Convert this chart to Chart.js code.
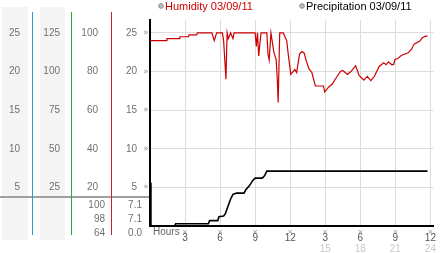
<!DOCTYPE html>
<html>
<head>
<meta charset="utf-8">
<title>Humidity / Precipitation 03/09/11</title>
<script src="https://cdn.jsdelivr.net/npm/chart.js@4.4.0/dist/chart.umd.min.js"></script>
<style>
  html, body { margin: 0; padding: 0; background: #fff; }
</style>
</head>
<body>
<canvas id="weatherChart" width="442" height="253"></canvas>
<script>
// Values (hours since midnight)
const humidityHours = [0, 1.4, 1.45, 2.5, 2.55, 3.3, 3.35, 4.0, 4.05, 5.3, 5.5, 5.7, 6.2, 6.3, 6.5, 6.6, 6.7, 6.9, 7.1, 7.2,
    9.0, 9.1, 9.2, 9.3, 9.5, 10.0, 10.1, 10.2, 10.35, 10.6, 10.8, 10.9, 10.97, 11.1, 11.4, 11.7, 11.85, 12.05, 12.4, 12.55,
    12.8, 13.0, 13.2, 13.35, 13.6, 13.85, 14.15, 14.85, 14.95, 15.3, 15.6, 15.85, 16.3, 16.5, 16.9, 17.2, 17.6, 17.9, 18.3,
    18.6, 18.9, 19.2, 19.6, 20.0, 20.2, 20.4, 20.7, 20.85, 20.97, 21.2, 21.5, 22.1, 22.4, 22.6, 23.1, 23.3, 23.6, 23.75];
const humidityValues = [96, 96, 97, 97, 98, 98, 99, 99, 100, 100, 96, 100, 100, 96, 76, 100, 97, 100, 97, 100,
    100, 93, 100, 88, 100, 100, 89, 86, 100, 90, 86, 75, 64, 100, 100, 96, 88, 78.5, 81, 79.5,
    89, 90.3, 89.5, 86, 81.5, 79.5, 72.5, 72.5, 69.5, 72, 73.5, 76, 80, 80.5, 78.5, 80, 83, 78, 75.5,
    77.5, 75.3, 77.5, 82.5, 84.5, 83.5, 85, 83.5, 83.7, 86.2, 86.7, 88.3, 89.7, 91.7, 94.2, 95.8, 97.5, 98.3, 98.3];

const precipHours = [0, 0.08, 0.2, 2.1, 2.2, 5.0, 5.1, 5.8, 5.9, 6.3, 6.45, 6.9, 7.1, 7.4, 8.05, 8.2, 8.5, 8.8, 9.0, 9.6, 9.8, 10.0, 23.75];
const precipValues = [5.6, 0.1, 0, 0, 0.3, 0.3, 0.7, 0.7, 1.2, 1.3, 1.6, 3.5, 4.1, 4.25, 4.25, 4.7, 5.2, 5.9, 6.2, 6.2, 6.5, 7.1, 7.1];

// Tick labels
const hourTicks = [3, 6, 9, 12, 15, 18, 21, 24];
const plotTicks = [5, 10, 15, 20, 25];
const scaleBTicks = [25, 50, 75, 100, 125];
const humidityTicks = [20, 40, 60, 80, 100];

// Summary rows under the left panel: max / current / min
const humidityTable = ['100', '98', '64'];
const precipTable = ['7.1', '7.1', '0.0'];

const legendLabels = ['Humidity 03/09/11', 'Precipitation 03/09/11'];

const plotMax = 26.67;
const hourMax = 24.25;

Chart.defaults.font.family = "'Liberation Sans', Arial, sans-serif";
Chart.defaults.font.size = 10;

function toPoints(xs, ys) {
    return xs.map((x, i) => ({ x: x, y: ys[i] }));
}

function setTicks(list) {
    return function (scale) {
        scale.ticks = list.map(v => ({ value: v }));
    };
}

function leftAxis(max, ticks, width, weight, padding) {
    return {
        type: 'linear',
        position: 'left',
        min: 0,
        max: max,
        weight: weight,
        afterBuildTicks: setTicks(ticks),
        afterFit: function (scale) { scale.width = width; },
        grid: { display: false, drawTicks: false },
        border: { display: false },
        ticks: { color: '#707070', padding: padding, font: { size: 10 } },
    };
}

// Left panel backgrounds, column rules, summary table, markers and legend
const stationFrame = {
    id: 'stationFrame',
    beforeDraw(chart) {
        const ctx = chart.ctx;
        const s = chart.scales;
        ctx.save();
        ctx.fillStyle = '#fff';
        ctx.fillRect(0, 0, chart.width, chart.height);
        ctx.fillStyle = '#f4f4f4';
        ctx.fillRect(s.yA.left + 2, 7, s.yA.width - 7, 233);
        ctx.fillRect(s.yB.left + 7, 7, s.yB.width - 14, 233);
        ctx.restore();
    },
    afterDraw(chart) {
        const ctx = chart.ctx;
        const s = chart.scales;
        const area = chart.chartArea;
        ctx.save();

        // separator above the summary rows
        const sepY = area.bottom - 29;
        ctx.fillStyle = '#a0a0a0';
        ctx.fillRect(0, sepY - 1, area.left - 1, 2);

        // coloured column rules
        [[s.yA, '#2a9fd0'], [s.yB, '#2eaa2e'], [s.yH, '#cc2222']].forEach(([sc, col]) => {
            ctx.fillStyle = col;
            ctx.fillRect(Math.round(sc.right) - 1, 12, 1, 223);
        });

        // summary rows
        ctx.font = "10px 'Liberation Sans', Arial, sans-serif";
        ctx.fillStyle = '#707070';
        ctx.textAlign = 'right';
        ctx.textBaseline = 'middle';
        humidityTable.forEach((t, i) => ctx.fillText(t, s.yH.right - 7, sepY + 8 + i * 14));
        precipTable.forEach((t, i) => ctx.fillText(t, s.yP.right - 8, sepY + 8 + i * 14));

        // small tick markers
        ctx.font = "8px 'DejaVu Sans', sans-serif";
        ctx.fillStyle = '#8c8c8c';
        ctx.textAlign = 'center';
        plotTicks.forEach(v => ctx.fillText('»', area.left - 4, s.yP.getPixelForValue(v)));
        ctx.font = "7px 'DejaVu Sans', sans-serif";
        hourTicks.forEach(v => ctx.fillText('×', s.x.getPixelForValue(v), area.bottom + 6));

        // axis caption
        ctx.font = "10px 'Liberation Sans', Arial, sans-serif";
        ctx.fillStyle = '#666';
        ctx.textAlign = 'left';
        ctx.fillText('Hours', area.left + 3, area.bottom + 6);

        // legend
        const starts = [area.left + 9, area.left + 150];
        chart.data.datasets.forEach((ds, i) => {
            ctx.beginPath();
            ctx.arc(starts[i] + 2, 6, 2.3, 0, Math.PI * 2);
            ctx.fillStyle = '#bdbdbd';
            ctx.fill();
            ctx.strokeStyle = '#8a8a8a';
            ctx.lineWidth = 1;
            ctx.stroke();
            ctx.font = "11px 'Liberation Sans', Arial, sans-serif";
            ctx.fillStyle = ds.legendColor;
            ctx.fillText(ds.label, starts[i] + 6, 6.5);
        });
        ctx.restore();
    }
};

const ctx = document.getElementById('weatherChart').getContext('2d');
new Chart(ctx, {
    type: 'line',
    data: {
        datasets: [{
            label: legendLabels[0],
            data: toPoints(humidityHours, humidityValues),
            yAxisID: 'yH',
            borderColor: '#cc0000',
            legendColor: '#cc0000',
            borderWidth: 1.2,
            pointRadius: 0,
            tension: 0,
            fill: false,
        }, {
            label: legendLabels[1],
            data: toPoints(precipHours, precipValues),
            yAxisID: 'yP',
            borderColor: '#000',
            legendColor: '#000',
            borderWidth: 1.6,
            pointRadius: 0,
            tension: 0,
            fill: false,
            clip: 3,
        }],
    },
    options: {
        responsive: false,
        animation: false,
        layout: { padding: { top: 13, left: 0, right: 1, bottom: 0 } },
        plugins: { legend: { display: false }, tooltip: { enabled: false } },
        scales: {
            x: {
                type: 'linear',
                position: 'bottom',
                min: 0,
                max: hourMax,
                weight: 1,
                afterBuildTicks: setTicks(hourTicks),
                afterFit: function (scale) { scale.height = 17; },
                grid: { color: '#dcdcdc', drawTicks: false },
                border: { color: '#000', width: 2 },
                ticks: {
                    color: '#555', padding: 6, maxRotation: 0, autoSkip: false,
                    callback: v => (v % 12 === 0 ? 12 : v % 12),
                },
            },
            x2: {
                type: 'linear',
                position: 'bottom',
                min: 0,
                max: hourMax,
                weight: 2,
                afterBuildTicks: setTicks(hourTicks),
                afterFit: function (scale) { scale.height = 10; },
                grid: { display: false, drawTicks: false },
                border: { display: false },
                ticks: {
                    color: '#c8c8c8', padding: 0, maxRotation: 0, autoSkip: false,
                    callback: v => (v > 12 ? v : ''),
                },
            },
            yP: {
                type: 'linear',
                position: 'left',
                min: 0,
                max: plotMax,
                weight: 1,
                afterBuildTicks: setTicks(plotTicks),
                afterFit: function (scale) { scale.width = 38; },
                grid: { color: '#dcdcdc', drawTicks: false },
                border: { color: '#000', width: 2 },
                ticks: { color: '#707070', padding: 13 },
            },
            yH: leftAxis(plotMax * 4, humidityTicks, 40, 2, 14),
            yB: leftAxis(plotMax * 5, scaleBTicks, 39, 3, 12),
            yA: leftAxis(plotMax, plotTicks, 33, 4, 13),
        },
    },
    plugins: [stationFrame],
});
</script>
</body>
</html>
